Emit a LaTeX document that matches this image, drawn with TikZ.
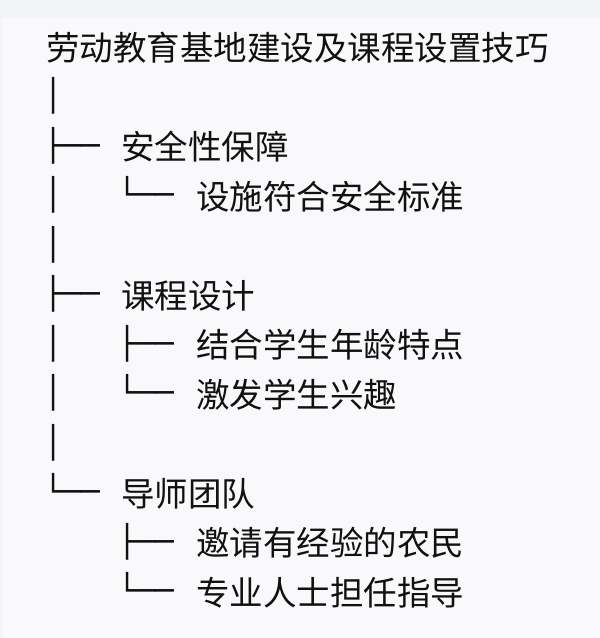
\documentclass[tikz,border=0pt]{standalone}
\usepackage{fontspec}
\newfontfamily\cjk{Noto Sans CJK SC}
\newfontfamily\boxfont{DejaVu Sans Mono}
\definecolor{bgout}{HTML}{F3F4F6}
\definecolor{bgin}{HTML}{F9F9FB}
\definecolor{ink}{HTML}{111111}
\begin{document}
\begin{tikzpicture}[x=1pt,y=-1pt,
  lbl/.style={anchor=base west,inner sep=0pt,font=\cjk\fontsize{33.5pt}{40pt}\selectfont,text=ink},
  br/.style={anchor=base west,inner sep=0pt,font=\boxfont\fontsize{31pt}{36pt}\selectfont,text=ink}]
\fill[bgout] (0,0) rectangle (600,638);
\fill[bgin] (2,18) rectangle (600,638);
\useasboundingbox (0,0) rectangle (600,638);
% row 0
\node[lbl] (root) at (46,60.7) {劳动教育基地建设及课程设置技巧};
% row 1
\node[br] (v1) at (43.7,106.5) {│};
% row 2
\node[br] (b2) at (43.7,156) {├──};
\node[lbl] (a) at (121,159.7) {安全性保障};
% row 3
\node[br] (v3) at (43.7,205.5) {│};
\node[br] (b3) at (117.7,205.5) {└──};
\node[lbl] (a1) at (196,209.2) {设施符合安全标准};
% row 4
\node[br] (v4) at (43.7,255) {│};
% row 5
\node[br] (b5) at (43.7,304.5) {├──};
\node[lbl] (b) at (121,308.2) {课程设计};
% row 6
\node[br] (v6) at (43.7,354) {│};
\node[br] (b6) at (117.7,354) {├──};
\node[lbl] (b1) at (196,357.7) {结合学生年龄特点};
% row 7
\node[br] (v7) at (43.7,403.5) {│};
\node[br] (b7) at (117.7,403.5) {└──};
\node[lbl] (b2t) at (196,407.2) {激发学生兴趣};
% row 8
\node[br] (v8) at (43.7,453) {│};
% row 9
\node[br] (b9) at (43.7,502.5) {└──};
\node[lbl] (c) at (121,506.2) {导师团队};
% row 10
\node[br] (b10) at (117.7,552) {├──};
\node[lbl] (c1) at (196,555.7) {邀请有经验的农民};
% row 11
\node[br] (b11) at (117.7,601.5) {└──};
\node[lbl] (c2) at (196,605.2) {专业人士担任指导};
\end{tikzpicture}
\end{document}
